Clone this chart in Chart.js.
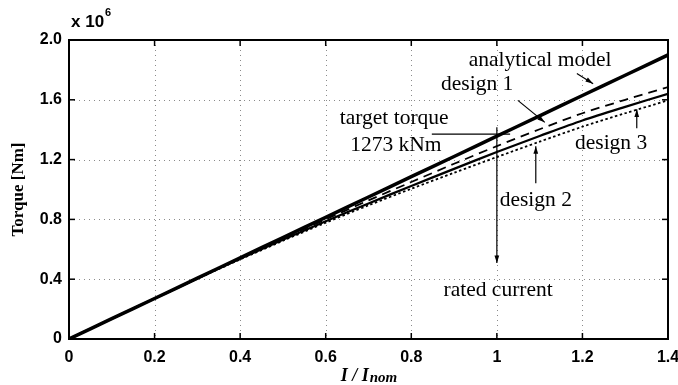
<!DOCTYPE html>
<html>
<head>
<meta charset="utf-8">
<script src="https://cdn.jsdelivr.net/npm/chart.js@4.4.1/dist/chart.umd.min.js"></script>
<style>
  html, body { margin: 0; padding: 0; background: #fff; }
  #wrap { width: 678px; height: 385px; }
</style>
</head>
<body>
<div id="wrap"><canvas id="torqueChart" width="678" height="385"></canvas></div>
<script>
// I / Inom
const currentRatio = [0, 0.1, 0.2, 0.3, 0.4, 0.5, 0.6, 0.7, 0.8, 0.9, 1.0, 1.1, 1.2, 1.3, 1.4];
// torque, x 10^6 Nm
const analyticalModel = [0, 0.136, 0.271, 0.407, 0.543, 0.679, 0.814, 0.950, 1.086, 1.221, 1.357, 1.493, 1.629, 1.764, 1.900];
const design1 = [0, 0.136, 0.271, 0.406, 0.539, 0.671, 0.800, 0.927, 1.050, 1.172, 1.290, 1.403, 1.510, 1.600, 1.685];
const design2 = [0, 0.136, 0.271, 0.405, 0.536, 0.664, 0.788, 0.907, 1.024, 1.138, 1.251, 1.358, 1.462, 1.553, 1.640];
const design3 = [0, 0.135, 0.270, 0.403, 0.532, 0.657, 0.778, 0.894, 1.005, 1.112, 1.217, 1.320, 1.420, 1.510, 1.596];

const xTicks = [0, 0.2, 0.4, 0.6, 0.8, 1, 1.2, 1.4];
const yTicks = [0, 0.4, 0.8, 1.2, 1.6, 2.0];

const targetTorque = 1.37;
const ratedCurrent = 1.0;

// text labels and arrows, in data units
const notes = [
  { text: 'analytical model', x: 1.101, y: 1.863 },
  { text: 'design 1', x: 0.954, y: 1.703 },
  { text: 'target torque', x: 0.760, y: 1.476 },
  { text: '1273 kNm', x: 0.764, y: 1.296 },
  { text: 'design 3', x: 1.267, y: 1.309 },
  { text: 'design 2', x: 1.091, y: 0.928 },
  { text: 'rated current', x: 1.003, y: 0.327 }
];
const arrows = [
  { from: [1.187, 1.776], to: [1.225, 1.708] },
  { from: [1.049, 1.596], to: [1.112, 1.449] },
  { from: [1.327, 1.409], to: [1.327, 1.536] },
  { from: [1.091, 1.042], to: [1.091, 1.290] },
  { from: [ratedCurrent, 1.416], to: [ratedCurrent, 0.508] }
];
const targetLine = [0.848, 1.031];

function toPoints(ys) {
  return ys.map((v, i) => ({ x: currentRatio[i], y: v }));
}

function fmtTick(v) {
  if (Math.abs(v) < 1e-9) return '0';
  if (Math.abs(v - 1) < 1e-9) return '1';
  return v.toFixed(1);
}

const framePlugin = {
  id: 'frame',
  beforeDatasetsDraw(chart) {
    const ctx = chart.ctx;
    const a = chart.chartArea;
    const xs = chart.scales.x, ys = chart.scales.y;
    ctx.save();
    ctx.strokeStyle = '#8a8a8a';
    ctx.lineWidth = 1;
    ctx.setLineDash([1, 4]);
    xTicks.forEach(t => {
      const px = Math.round(xs.getPixelForValue(t)) + 0.5;
      if (px < a.left + 2 || px > a.right - 2) return;
      ctx.beginPath(); ctx.moveTo(px, a.top); ctx.lineTo(px, a.bottom); ctx.stroke();
    });
    yTicks.forEach(t => {
      const py = Math.round(ys.getPixelForValue(t)) + 0.5;
      if (py < a.top + 2 || py > a.bottom - 2) return;
      ctx.beginPath(); ctx.moveTo(a.left, py); ctx.lineTo(a.right, py); ctx.stroke();
    });
    ctx.restore();
  },
  afterDatasetsDraw(chart) {
    const ctx = chart.ctx;
    const a = chart.chartArea;
    const xs = chart.scales.x, ys = chart.scales.y;
    const px = v => xs.getPixelForValue(v);
    const py = v => ys.getPixelForValue(v);
    ctx.save();
    // box + inward ticks
    ctx.strokeStyle = '#000';
    ctx.lineWidth = 2;
    ctx.setLineDash([]);
    ctx.strokeRect(a.left, a.top, a.right - a.left, a.bottom - a.top);
    ctx.lineWidth = 1.5;
    xTicks.forEach(t => {
      const x = px(t);
      ctx.beginPath(); ctx.moveTo(x, a.bottom); ctx.lineTo(x, a.bottom - 6); ctx.stroke();
      ctx.beginPath(); ctx.moveTo(x, a.top); ctx.lineTo(x, a.top + 6); ctx.stroke();
    });
    yTicks.forEach(t => {
      const y = py(t);
      ctx.beginPath(); ctx.moveTo(a.left, y); ctx.lineTo(a.left + 6, y); ctx.stroke();
      ctx.beginPath(); ctx.moveTo(a.right, y); ctx.lineTo(a.right - 6, y); ctx.stroke();
    });

    // target torque line
    ctx.lineWidth = 1.2;
    ctx.beginPath();
    ctx.moveTo(px(targetLine[0]), py(targetTorque));
    ctx.lineTo(px(targetLine[1]), py(targetTorque));
    ctx.stroke();

    // arrows
    arrows.forEach(ar => {
      const x1 = px(ar.from[0]), y1 = py(ar.from[1]);
      const x2 = px(ar.to[0]), y2 = py(ar.to[1]);
      ctx.lineWidth = 1.2;
      ctx.beginPath(); ctx.moveTo(x1, y1); ctx.lineTo(x2, y2); ctx.stroke();
      const ang = Math.atan2(y2 - y1, x2 - x1);
      const len = 8, w = 0.3;
      ctx.fillStyle = '#000';
      ctx.beginPath();
      ctx.moveTo(x2, y2);
      ctx.lineTo(x2 - len * Math.cos(ang - w), y2 - len * Math.sin(ang - w));
      ctx.lineTo(x2 - len * Math.cos(ang + w), y2 - len * Math.sin(ang + w));
      ctx.closePath();
      ctx.fill();
    });

    // annotation text
    ctx.fillStyle = '#000';
    ctx.font = '21.5px "Liberation Serif", "DejaVu Serif", serif';
    ctx.textAlign = 'center';
    ctx.textBaseline = 'middle';
    notes.forEach(n => ctx.fillText(n.text, px(n.x), py(n.y)));

    // exponent label
    ctx.font = 'bold 17px "Liberation Sans", Arial, sans-serif';
    ctx.textAlign = 'left';
    ctx.textBaseline = 'alphabetic';
    ctx.fillText('x 10', 71, 27);
    const w10 = ctx.measureText('x 10').width;
    ctx.font = 'bold 11px "Liberation Sans", Arial, sans-serif';
    ctx.fillText('6', 71 + w10 + 1, 16);

    // y title
    ctx.save();
    ctx.translate(19, (a.top + a.bottom) / 2);
    ctx.rotate(-Math.PI / 2);
    ctx.font = 'bold 17px "Liberation Serif", serif';
    ctx.textAlign = 'center';
    ctx.textBaseline = 'middle';
    ctx.fillText('Torque [Nm]', 0, 0);
    ctx.restore();

    // x title
    ctx.textBaseline = 'alphabetic';
    const mainPart = 'I / I';
    ctx.font = 'italic bold 18px "Liberation Serif", serif';
    const mw = ctx.measureText(mainPart).width;
    ctx.font = 'italic bold 15px "Liberation Serif", serif';
    const sw = ctx.measureText('nom').width;
    const startX = (a.left + a.right) / 2 - (mw + sw) / 2;
    ctx.font = 'italic bold 18px "Liberation Serif", serif';
    ctx.fillText(mainPart, startX, 381);
    ctx.font = 'italic bold 15px "Liberation Serif", serif';
    ctx.fillText('nom', startX + mw + 1, 382);
    ctx.restore();
  }
};

new Chart(document.getElementById('torqueChart'), {
  type: 'line',
  data: {
    datasets: [
      {
        label: 'analytical model',
        data: toPoints(analyticalModel),
        borderColor: '#000',
        borderWidth: 3.5,
        pointRadius: 0,
        tension: 0.3
      },
      {
        label: 'design 1',
        data: toPoints(design1),
        borderColor: '#000',
        borderWidth: 1.8,
        borderDash: [9, 6],
        pointRadius: 0,
        tension: 0.3
      },
      {
        label: 'design 2',
        data: toPoints(design2),
        borderColor: '#000',
        borderWidth: 2.2,
        pointRadius: 0,
        tension: 0.3
      },
      {
        label: 'design 3',
        data: toPoints(design3),
        borderColor: '#000',
        borderWidth: 1.8,
        borderDash: [2.5, 2.5],
        pointRadius: 0,
        tension: 0.3
      }
    ]
  },
  options: {
    responsive: false,
    animation: false,
    layout: { padding: { top: 40, right: 0, left: 0, bottom: 0 } },
    plugins: { legend: { display: false }, tooltip: { enabled: false } },
    scales: {
      x: {
        type: 'linear',
        min: 0,
        max: 1.4,
        afterBuildTicks: s => { s.ticks = xTicks.map(v => ({ value: v })); },
        afterFit: s => { s.height = 46; s.paddingLeft = 0; s.paddingRight = 10; },
        grid: { display: false, drawTicks: false },
        border: { display: false },
        ticks: {
          padding: 9,
          color: '#000',
          font: { family: '"Liberation Sans", Arial, sans-serif', size: 16, weight: 'bold' },
          callback: v => fmtTick(v)
        }
      },
      y: {
        type: 'linear',
        min: 0,
        max: 2.0,
        afterBuildTicks: s => { s.ticks = yTicks.map(v => ({ value: v })); },
        afterFit: s => { s.width = 69; s.paddingTop = 0; s.paddingBottom = 0; },
        grid: { display: false, drawTicks: false },
        border: { display: false },
        ticks: {
          padding: 7,
          color: '#000',
          font: { family: '"Liberation Sans", Arial, sans-serif', size: 16, weight: 'bold' },
          callback: v => fmtTick(v)
        }
      }
    }
  },
  plugins: [framePlugin]
});
</script>
</body>
</html>
